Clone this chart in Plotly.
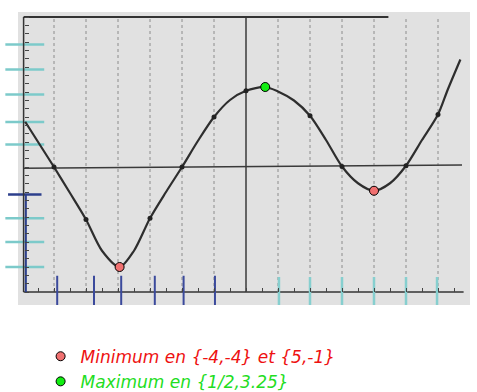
import plotly.graph_objects as go

# ---- data (grid units: 1 x-unit = one dotted grid column) ----
curve_x = [-6.9, -6.0, -5.5, -5.0, -4.5, -3.95, -3.5, -3.0, -2.5, -2.0, -1.5, -1.0, -0.5,
           0.0, 0.6, 1.0, 1.5, 2.0, 2.5, 3.0, 3.5, 4.0, 4.5, 5.0, 5.5, 6.0, 6.3, 6.7]
curve_y = [1.81, 0.0, -1.04, -2.1, -3.35, -4.0, -3.35, -2.05, -1.0, 0.0, 1.05, 2.0, 2.68,
           3.05, 3.2, 3.02, 2.66, 2.05, 1.08, 0.02, -0.65, -0.95, -0.65, 0.05, 1.08, 2.1, 3.08, 4.3]

dot_x = [-6.0, -5.0, -3.0, -2.0, -1.0, 0.0, 2.0, 3.0, 5.0, 6.0]
dot_y = [0.0, -2.1, -2.05, 0.0, 2.0, 3.05, 2.05, 0.02, 0.05, 2.1]

min_x = [-3.95, 4.0]
min_y = [-4.0, -0.95]
max_x = [0.6]
max_y = [3.2]

min_label = "Minimum en {-4,-4} et {5,-1}"
max_label = "Maximum en {1/2,3.25}"

grid_x = [-6, -5, -4, -3, -2, -1, 1, 2, 3, 4, 5, 6]
left_marks_y = [4.9, 3.9, 2.9, 1.8, 0.9, -2.05, -3.0, -4.0]
left_blue_mark_y = [-1.1]
bottom_blue_x = [-5.9, -4.75, -3.9, -2.85, -1.95, -0.97]
bottom_cyan_x = [1.03, 2.0, 3.0, 4.0, 5.0, 5.97]

RED_TXT = "#ee1111"
GRN_TXT = "#22dd22"

fig = go.Figure()

fig.add_trace(go.Scatter(x=curve_x, y=curve_y, mode="lines",
                         line=dict(color="#2e2e2e", width=2.2, shape="spline", smoothing=0.8),
                         showlegend=False, hoverinfo="skip"))
fig.add_trace(go.Scatter(x=dot_x, y=dot_y, mode="markers",
                         marker=dict(color="#222222", size=5),
                         showlegend=False, hoverinfo="skip"))
fig.add_trace(go.Scatter(x=min_x, y=min_y, mode="markers",
                         name="<i><span style='color:%s'>%s</span></i>" % (RED_TXT, min_label),
                         marker=dict(color="#f07070", size=9, line=dict(color="black", width=1))))
fig.add_trace(go.Scatter(x=max_x, y=max_y, mode="markers",
                         name="<i><span style='color:%s'>%s</span></i>" % (GRN_TXT, max_label),
                         marker=dict(color="#11ee11", size=9, line=dict(color="black", width=1))))

shapes = []
for gx in grid_x:
    shapes.append(dict(type="line", xref="x", yref="y", x0=gx, x1=gx, y0=-5, y1=6,
                       line=dict(color="#8c8c8c", width=1, dash="dot"), layer="below"))
shapes.append(dict(type="line", xref="x", yref="y", x0=0, x1=0, y0=-5, y1=6.02,
                   line=dict(color="#3a3a3a", width=1.5), layer="below"))
shapes.append(dict(type="line", xref="x", yref="y", x0=-6.95, x1=6.75, y0=-0.05, y1=0.08,
                   line=dict(color="#3a3a3a", width=1.5), layer="below"))
shapes.append(dict(type="line", xref="x", yref="y", x0=-6.95, x1=4.45, y0=6, y1=6,
                   line=dict(color="#333333", width=2), layer="below"))
shapes.append(dict(type="line", xref="x", yref="y", x0=-6.95, x1=-6.95, y0=6, y1=-5,
                   line=dict(color="#333333", width=1.5), layer="below"))
shapes.append(dict(type="line", xref="x", yref="y", x0=-6.95, x1=6.8, y0=-5, y1=-5,
                   line=dict(color="#333333", width=1.5), layer="below"))
for my in left_marks_y:
    shapes.append(dict(type="line", xref="paper", yref="y", x0=-0.028, x1=0.058, y0=my, y1=my,
                       line=dict(color="#7ccaca", width=2.5), layer="below"))
for my in left_blue_mark_y:
    shapes.append(dict(type="line", xref="paper", yref="y", x0=-0.022, x1=0.052, y0=my, y1=my,
                       line=dict(color="#2c3f8c", width=2.5), layer="below"))
shapes.append(dict(type="line", xref="x", yref="y", x0=-6.88, x1=-6.88, y0=-1.1, y1=-5,
                   line=dict(color="#2c3f8c", width=2), layer="below"))
for bx in bottom_blue_x:
    shapes.append(dict(type="line", xref="x", yref="y", x0=bx, x1=bx, y0=-4.35, y1=-5.52,
                       line=dict(color="#3b4a9c", width=2), layer="below"))
for bx in bottom_cyan_x:
    shapes.append(dict(type="line", xref="x", yref="y", x0=bx, x1=bx, y0=-4.4, y1=-5.52,
                       line=dict(color="#86cfcf", width=2.5), layer="below"))

fig.update_layout(
    width=477, height=392,
    margin=dict(l=18, r=7, t=12, b=87, pad=0, autoexpand=False),
    paper_bgcolor="white",
    plot_bgcolor="#e1e1e1",
    shapes=shapes,
    showlegend=True,
    legend=dict(x=0.05, y=-0.115, xanchor="left", yanchor="top",
                bgcolor="rgba(0,0,0,0)", traceorder="normal", tracegroupgap=0,
                font=dict(family="DejaVu Sans", size=17)),
    xaxis=dict(range=[-7.125, 7.0], showgrid=False, zeroline=False, showline=False,
               showticklabels=False, ticks="inside", ticklen=4, tickcolor="#444444",
               tickvals=[i / 2 for i in range(-13, 14)],
               anchor="free", position=0.0427, fixedrange=True),
    yaxis=dict(range=[-5.52, 6.2], showgrid=False, zeroline=False, showline=False,
               showticklabels=False, ticks="inside", ticklen=4, tickcolor="#444444",
               tickvals=[i / 3 for i in range(-15, 19)],
               anchor="free", position=0.0124, fixedrange=True),
)

fig.write_html("out.html")
